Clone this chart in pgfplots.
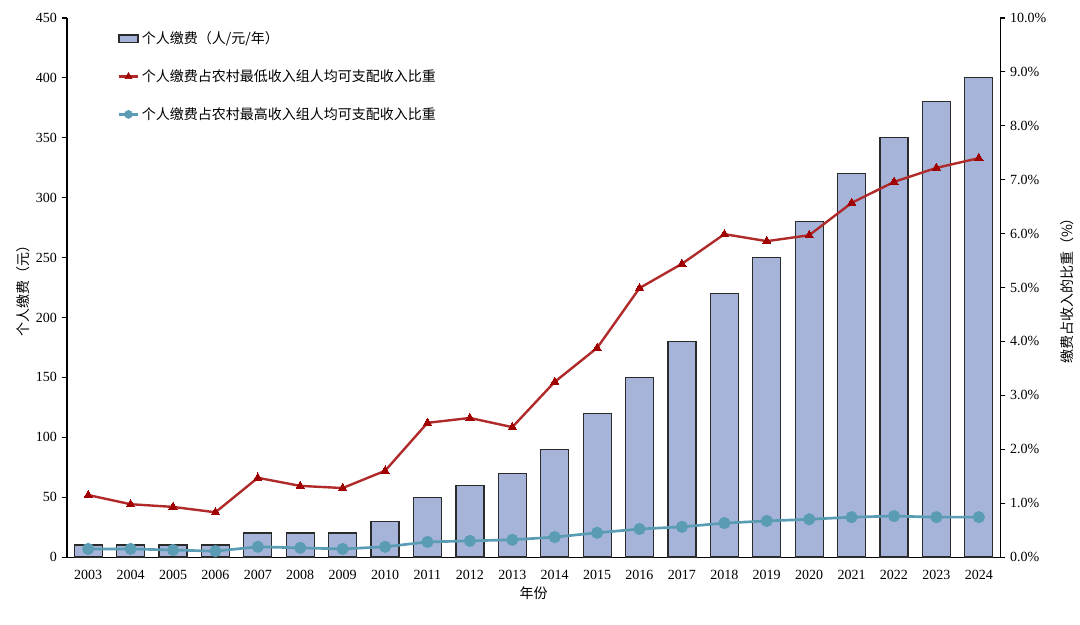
\documentclass[border=0pt]{standalone}
\usepackage{pgfplots}
\pgfplotsset{compat=1.18}
\usepackage{fontspec}
\setmainfont{Liberation Serif}
\newfontfamily\cjk{Noto Sans CJK SC}
\definecolor{barfill}{HTML}{A6B4D9}
\definecolor{baredge}{HTML}{2B2B2B}
\definecolor{redl}{HTML}{B02A2A}
\definecolor{redm}{HTML}{A00000}
\definecolor{bluel}{HTML}{5A9CB4}
\pgfplotstableread{
year fee low high
2003 10 1.15 0.15
2004 10 0.98 0.15
2005 10 0.93 0.13
2006 10 0.83 0.11
2007 20 1.47 0.19
2008 20 1.32 0.17
2009 20 1.28 0.15
2010 30 1.60 0.19
2011 50 2.49 0.28
2012 60 2.58 0.30
2013 70 2.41 0.32
2014 90 3.25 0.37
2015 120 3.88 0.45
2016 150 4.99 0.52
2017 180 5.44 0.56
2018 220 5.99 0.63
2019 250 5.86 0.67
2020 280 5.97 0.70
2021 320 6.57 0.74
2022 350 6.96 0.76
2023 380 7.22 0.74
2024 400 7.40 0.74
}\datatable
\begin{document}
\begin{tikzpicture}
\pgfplotsset{
  every axis/.append style={
    scale only axis, width=699.75pt, height=404.25pt,
    xmin=2002.5, xmax=2024.5,
    font=\fontsize{10.5pt}{12pt}\selectfont,
    /pgf/number format/assume math mode=true,
    tick align=outside,
    major tick length=4pt,
    every tick/.style={black, line width=0.8pt},
    axis line style={black, line width=0.8pt},
  }
}
\begin{axis}[
  name=ax,
  axis x line*=bottom, axis y line*=left,
  ymin=0, ymax=450, ytick={0,50,...,450},
  xtick={2003,...,2024},
  xticklabel style={/pgf/number format/1000 sep={}},
  x tick label style={yshift=-2pt},
  major x tick style={draw=none},
  xlabel={\cjk 年份},
  ylabel={\cjk 个人缴费（元）},
  ylabel style={yshift=-2pt},
  xlabel style={yshift=1pt},
  legend style={draw=none, fill=none, at={(rel axis cs:0.054,0.98)}, anchor=north west,
    font=\fontsize{10.5pt}{12pt}\selectfont\cjk, row sep=14pt, cells={anchor=west},
    inner sep=0pt},
  legend image code/.code={\draw[#1, line width=1pt, draw=baredge, fill=barfill] (0cm,-0.1cm) rectangle (0.5cm,0.1cm);},
]
\coordinate (bl) at (rel axis cs:-0.0718,-0.1243);
\coordinate (tr) at (rel axis cs:1.0857,1.0334);
\addplot[ybar, bar width=0.66, fill=barfill, draw=baredge, line width=0.9pt] table[x=year, y=fee] {\datatable};
\addlegendentry{个人缴费（人/元/年）}
\addlegendimage{legend image code/.code={\draw[redl, line width=1.8pt] (0cm,0cm) -- (0.5cm,0cm); \fill[redm] (0.25cm,0cm) +(90:3pt) -- +(210:3pt) -- +(330:3pt) -- cycle;}}
\addlegendentry{个人缴费占农村最低收入组人均可支配收入比重}
\addlegendimage{legend image code/.code={\draw[bluel, line width=2pt] (0cm,0cm) -- (0.5cm,0cm); \fill[bluel] (0.25cm,0cm) circle (3pt);}}
\addlegendentry{个人缴费占农村最高收入组人均可支配收入比重}
\end{axis}
\begin{axis}[
  axis x line=none, axis y line*=right,
  ymin=0, ymax=10, ytick={0,1,...,10},
  yticklabel={\pgfmathprintnumber[fixed,fixed zerofill,precision=1]{\tick}\%},
  ylabel={\cjk 缴费占收入的比重（\%）},
  ylabel style={yshift=-4pt},
]
\addplot[redl, line width=1.8pt, mark=triangle*, mark size=3.6pt, mark options={fill=redm, draw=redm, line width=0pt}] table[x=year, y=low] {\datatable};
\addplot[bluel, line width=2pt, mark=*, mark size=3.5pt, mark options={fill=bluel, draw=bluel}] table[x=year, y=high] {\datatable};
\end{axis}
\pgfresetboundingbox
\useasboundingbox (bl) rectangle (tr);
\end{tikzpicture}
\end{document}
